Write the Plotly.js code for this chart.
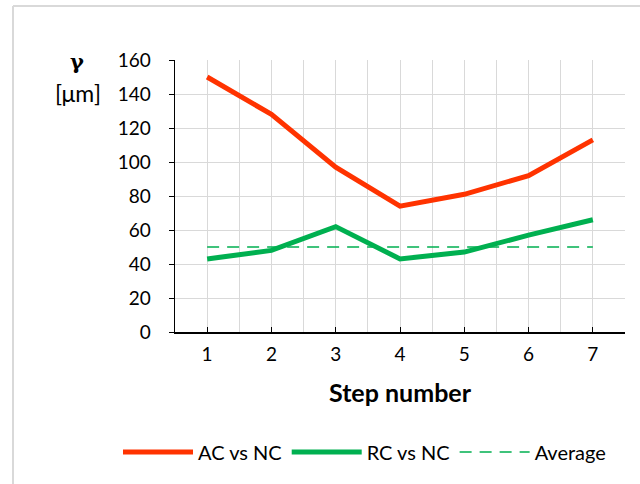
<!DOCTYPE html>
<html>
<head>
<meta charset="utf-8">
<script src="https://cdn.plot.ly/plotly-3.0.1.min.js"></script>
<style>html,body{margin:0;padding:0;background:#fff;}#chart{width:640px;height:484px;}</style>
</head>
<body>
<div id="chart"></div>
<script>
const steps = [1, 2, 3, 4, 5, 6, 7];
const acVsNc = [150, 128, 97, 74, 81, 92, 113];
const rcVsNc = [43, 48, 62, 43, 47, 57, 66];
const average = [50, 50, 50, 50, 50, 50, 50];
const seriesNames = ['AC vs NC', 'RC vs NC', 'Average'];
const xTickLabels = ['1', '2', '3', '4', '5', '6', '7'];

const FONT = 'Lato, "Open Sans", sans-serif';

const traces = [
  {x: steps, y: acVsNc, name: seriesNames[0], type: 'scatter', mode: 'lines',
   line: {color: '#FF3300', width: 5}},
  {x: steps, y: rcVsNc, name: seriesNames[1], type: 'scatter', mode: 'lines',
   line: {color: '#00B050', width: 5}},
  {x: steps, y: average, name: seriesNames[2], type: 'scatter', mode: 'lines',
   line: {color: '#00B050', width: 1.5, dash: '12px,8px'}}
];

const layout = {
  width: 640, height: 484,
  margin: {l: 175, r: 15, t: 60, b: 152},
  paper_bgcolor: '#ffffff', plot_bgcolor: '#ffffff',
  font: {family: FONT, size: 19, color: '#000'},
  showlegend: true,
  legend: {orientation: 'h', x: (118 - 175) / 450, xanchor: 'left',
           y: (332 - 452) / 272, yanchor: 'middle',
           font: {family: FONT, size: 20, color: '#000'}, itemwidth: 70, tracegroupgap: 0},
  xaxis: {
    range: [0.5, 7.5],
    tickmode: 'array', tickvals: steps.concat([7.5]), ticktext: xTickLabels.concat(['']),
    ticks: 'inside', ticklen: 5, tickcolor: '#000',
    showgrid: false, zeroline: false,
    minor: {dtick: 0.5, tick0: 0.5, showgrid: true, gridcolor: '#d9d9d9', gridwidth: 1, ticks: ''},
    showline: true, linecolor: '#000', linewidth: 1.5,
    tickfont: {family: FONT, size: 19},
    ticklabelstandoff: 5,
    title: {text: '<b>Step number</b>', font: {family: FONT, size: 25}, standoff: 20}
  },
  yaxis: {
    range: [0, 160], dtick: 20, tick0: 0,
    ticks: 'outside', ticklen: 5, tickcolor: '#000',
    showgrid: true, gridcolor: '#d9d9d9', gridwidth: 1, zeroline: false,
    showline: true, linecolor: '#000', linewidth: 1.5,
    tickfont: {family: FONT, size: 19},
    ticklabelstandoff: 14
  },
  annotations: [
    {xref: 'paper', yref: 'paper', x: (77 - 175) / 450, y: (332 - 62) / 272, text: '<b>γ</b>',
     showarrow: false, font: {family: '"DejaVu Serif", serif', size: 21}, xanchor: 'center', yanchor: 'middle'},
    {xref: 'paper', yref: 'paper', x: (78 - 175) / 450, y: (332 - 93) / 272, text: '[μm]',
     showarrow: false, font: {family: FONT, size: 23}, xanchor: 'center', yanchor: 'middle'}
  ],
  shapes: [
    {type: 'line', xref: 'paper', yref: 'paper', x0: (13 - 175) / 450, x1: (13 - 175) / 450,
     y0: (332 - 484) / 272, y1: (332 - 6) / 272, line: {color: '#d9d9d9', width: 2}},
    {type: 'line', xref: 'paper', yref: 'paper', x0: (13 - 175) / 450, x1: (640 - 175) / 450,
     y0: (332 - 6) / 272, y1: (332 - 6) / 272, line: {color: '#d9d9d9', width: 2}}
  ]
};

Plotly.newPlot('chart', traces, layout, {displayModeBar: false, staticPlot: true});
</script>
</body>
</html>
